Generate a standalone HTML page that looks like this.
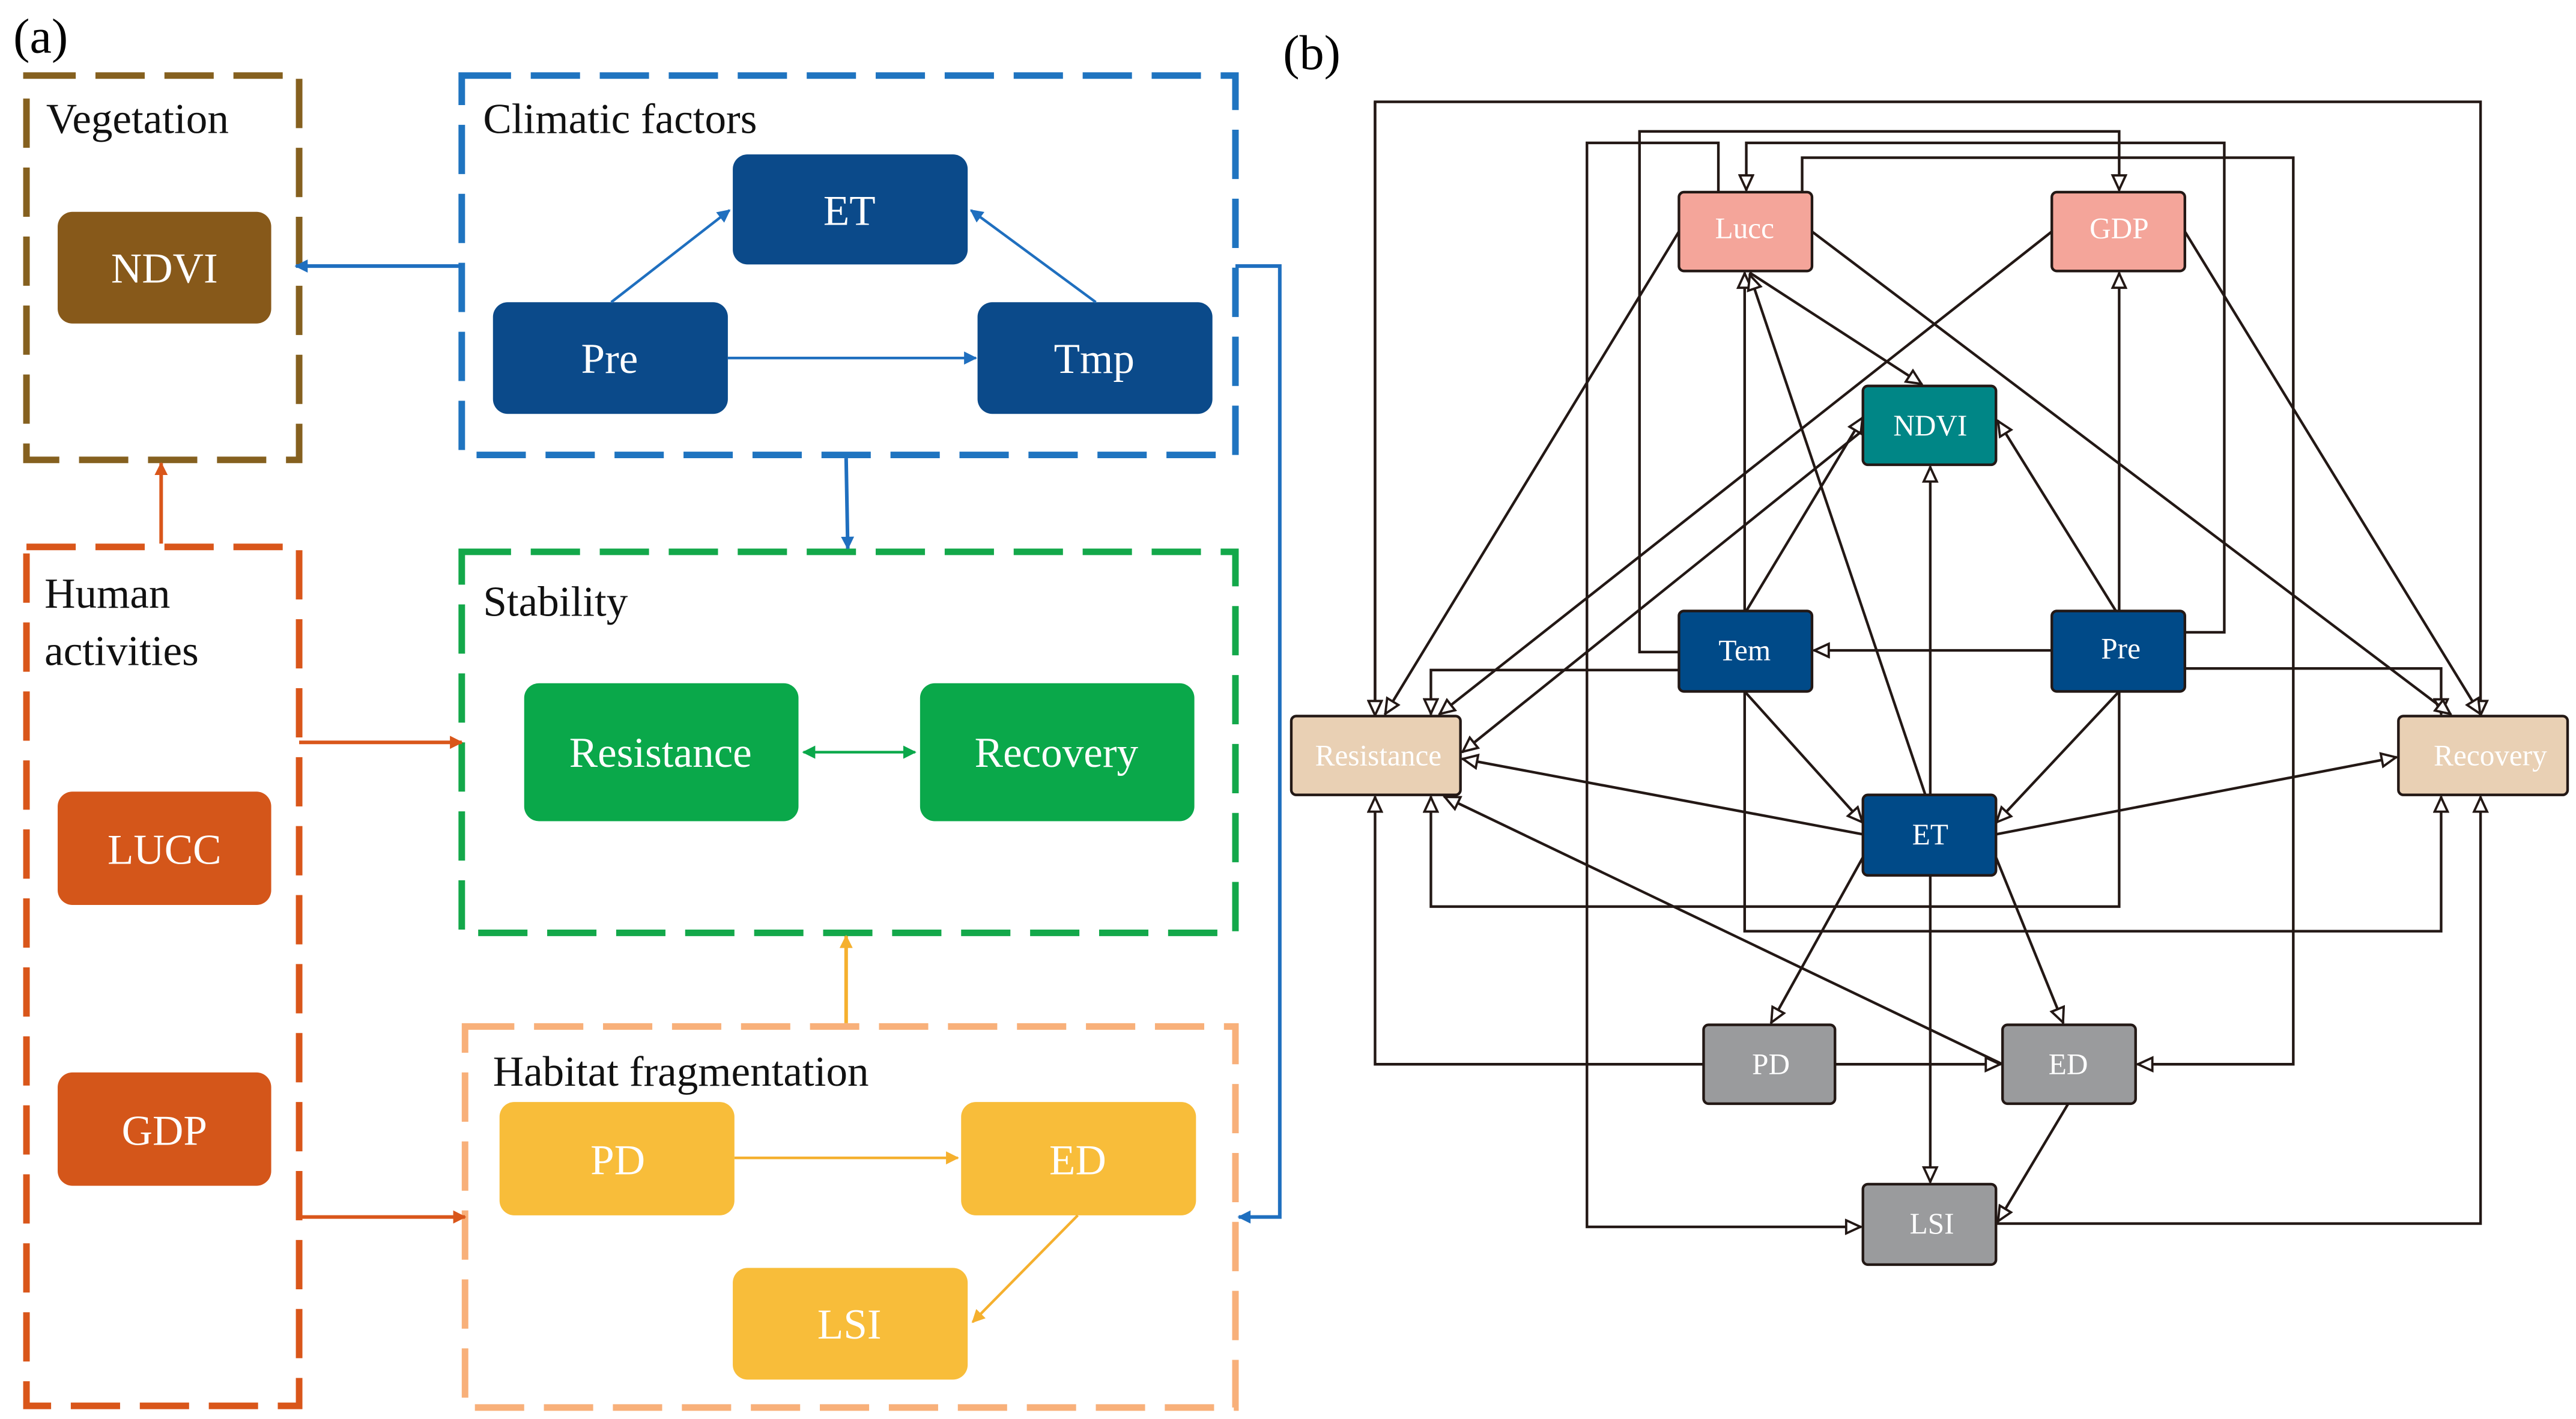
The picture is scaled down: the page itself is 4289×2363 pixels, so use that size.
<!DOCTYPE html>
<html><head><meta charset="utf-8"><style>
html,body{margin:0;padding:0;background:#fff}
svg{display:block}
svg text{font-family:"Liberation Serif","DejaVu Serif",serif}
</style></head><body>
<svg width="4289" height="2363" viewBox="0 0 1568 864" xmlns="http://www.w3.org/2000/svg" font-family="Liberation Serif, DejaVu Serif, serif">
<defs>
<marker id="ob" viewBox="0 0 10 10" refX="10" refY="5" markerWidth="13" markerHeight="10" markerUnits="userSpaceOnUse" orient="auto"><path d="M0.8,1 L9.5,5 L0.8,9 Z" fill="#fff" stroke="#231815" stroke-width="1.4"/></marker>
<marker id="mb" viewBox="0 0 10 10" refX="9" refY="5" markerWidth="9" markerHeight="8" markerUnits="userSpaceOnUse" orient="auto"><path d="M0,0 L10,5 L0,10 Z" fill="#1f6fbf"/></marker>
<marker id="mo" viewBox="0 0 10 10" refX="9" refY="5" markerWidth="9" markerHeight="8" markerUnits="userSpaceOnUse" orient="auto"><path d="M0,0 L10,5 L0,10 Z" fill="#d9561a"/></marker>
<marker id="my" viewBox="0 0 10 10" refX="9" refY="5" markerWidth="9" markerHeight="8" markerUnits="userSpaceOnUse" orient="auto"><path d="M0,0 L10,5 L0,10 Z" fill="#f5b02e"/></marker>
<marker id="mg" viewBox="0 0 10 10" refX="9" refY="5" markerWidth="9" markerHeight="8" markerUnits="userSpaceOnUse" orient="auto-start-reverse"><path d="M0,0 L10,5 L0,10 Z" fill="#0aa84a"/></marker>
</defs>

<!-- (a) -->
<text x="8" y="32" font-size="30" font-family="Liberation Serif, serif">(a)</text>
<g fill="none" stroke-width="4" stroke-dasharray="30,12">
<rect x="16" y="46" width="166" height="234" stroke="#85601f"/>
<rect x="16" y="333" width="166" height="523" stroke="#d9561a"/>
<rect x="281" y="46" width="471" height="231" stroke="#1f74c0"/>
<rect x="281" y="336" width="471" height="232" stroke="#13a84a"/>
<rect x="283" y="625" width="469" height="232" stroke="#f8b07a"/>
</g>
<g font-size="26" fill="#111" font-family="Liberation Serif, serif">
<text x="28" y="81">Vegetation</text>
<text x="294" y="81">Climatic factors</text>
<text x="27" y="370">Human</text>
<text x="27" y="405">activities</text>
<text x="294" y="375">Stability</text>
<text x="300" y="661">Habitat fragmentation</text>
</g>
<g>
<rect x="35" y="129" width="130" height="68" rx="9" fill="#87591a"/>
<rect x="35" y="482" width="130" height="69" rx="9" fill="#d4561a"/>
<rect x="35" y="653" width="130" height="69" rx="9" fill="#d4561a"/>
<rect x="446" y="94" width="143" height="67" rx="9" fill="#0b4a8a"/>
<rect x="300" y="184" width="143" height="68" rx="9" fill="#0b4a8a"/>
<rect x="595" y="184" width="143" height="68" rx="9" fill="#0b4a8a"/>
<rect x="319" y="416" width="167" height="84" rx="9" fill="#0aa84a"/>
<rect x="560" y="416" width="167" height="84" rx="9" fill="#0aa84a"/>
<rect x="304" y="671" width="143" height="69" rx="9" fill="#f8bd3a"/>
<rect x="585" y="671" width="143" height="69" rx="9" fill="#f8bd3a"/>
<rect x="446" y="772" width="143" height="68" rx="9" fill="#f8bd3a"/>
</g>
<g font-size="26" fill="#fff" text-anchor="middle" font-family="Liberation Serif, serif">
<text x="100" y="172">NDVI</text>
<text x="100" y="526">LUCC</text>
<text x="100" y="697">GDP</text>
<text x="517" y="137">ET</text>
<text x="371" y="227">Pre</text>
<text x="666" y="227">Tmp</text>
<text x="402" y="467">Resistance</text>
<text x="643" y="467">Recovery</text>
<text x="376" y="715">PD</text>
<text x="656" y="715">ED</text>
<text x="517" y="815">LSI</text>
</g>
<g fill="none" stroke-width="2.2">
<line x1="281" y1="162" x2="180" y2="162" stroke="#1f6fbf" marker-end="url(#mb)"/>
<line x1="98" y1="331" x2="98" y2="282" stroke="#d9561a" marker-end="url(#mo)"/>
<polyline points="182,452 281,452" stroke="#d9561a" marker-end="url(#mo)"/>
<polyline points="182,741 283,741" stroke="#d9561a" marker-end="url(#mo)"/>
<line x1="515" y1="279" x2="516" y2="334" stroke="#1f6fbf" marker-end="url(#mb)"/>
<line x1="515" y1="623" x2="515" y2="570" stroke="#f5b02e" marker-end="url(#my)"/>
<polyline points="752,162 779,162 779,741 754,741" stroke="#1f6fbf" marker-end="url(#mb)"/>
</g>
<g fill="none" stroke-width="1.6">
<line x1="372" y1="184" x2="444" y2="128" stroke="#1f6fbf" marker-end="url(#mb)"/>
<line x1="667" y1="184" x2="591" y2="128" stroke="#1f6fbf" marker-end="url(#mb)"/>
<line x1="443" y1="218" x2="594" y2="218" stroke="#1f6fbf" marker-end="url(#mb)"/>
<line x1="489" y1="458" x2="557" y2="458" stroke="#0aa84a" marker-start="url(#mg)" marker-end="url(#mg)"/>
<line x1="447" y1="705" x2="583" y2="705" stroke="#f5b02e" marker-end="url(#my)"/>
<line x1="656" y1="740" x2="592" y2="805" stroke="#f5b02e" marker-end="url(#my)"/>
</g>

<!-- (b) -->
<text x="781" y="42" font-size="30" font-family="Liberation Serif, serif">(b)</text>
<g fill="none" stroke="#231815" stroke-width="1.6">
<polyline points="837,436 837,62 1510,62 1510,436" marker-end="url(#ob)"/>
<line x1="837" y1="62" x2="837" y2="436" marker-end="url(#ob)"/>
<polyline points="1046,117 1046,87 966,87 966,747 1133,747" marker-end="url(#ob)"/>
<polyline points="1022,397 998,397 998,80 1290,80 1290,116" marker-end="url(#ob)"/>
<polyline points="1330,385 1354,385 1354,87 1063,87 1063,116" marker-end="url(#ob)"/>
<polyline points="1097,117 1097,96 1396,96 1396,648 1301,648" marker-end="url(#ob)"/>
<polyline points="1330,407 1486,407 1486,435" marker-end="url(#ob)"/>
<polyline points="1022,408 871,408 871,435" marker-end="url(#ob)"/>
<line x1="1249" y1="396" x2="1104" y2="396" marker-end="url(#ob)"/>
<line x1="1062" y1="372" x2="1062" y2="166" marker-end="url(#ob)"/>
<line x1="1290" y1="372" x2="1290" y2="166" marker-end="url(#ob)"/>
<line x1="1175" y1="484" x2="1175" y2="284" marker-end="url(#ob)"/>
<line x1="1065" y1="166" x2="1170" y2="234" marker-end="url(#ob)"/>
<line x1="1172" y1="484" x2="1065" y2="167" marker-end="url(#ob)"/>
<line x1="1063" y1="372" x2="1134" y2="254" marker-end="url(#ob)"/>
<line x1="1288" y1="372" x2="1216" y2="256" marker-end="url(#ob)"/>
<line x1="1022" y1="141" x2="843" y2="435" marker-end="url(#ob)"/>
<line x1="1103" y1="141" x2="1492" y2="435" marker-end="url(#ob)"/>
<line x1="1330" y1="141" x2="1510" y2="435" marker-end="url(#ob)"/>
<line x1="1249" y1="141" x2="876" y2="435" marker-end="url(#ob)"/>
<line x1="1134" y1="262" x2="890" y2="458" marker-end="url(#ob)"/>
<line x1="1134" y1="508" x2="890" y2="462" marker-end="url(#ob)"/>
<line x1="1215" y1="508" x2="1459" y2="461" marker-end="url(#ob)"/>
<line x1="1062" y1="421" x2="1134" y2="501" marker-end="url(#ob)"/>
<line x1="1290" y1="421" x2="1215" y2="501" marker-end="url(#ob)"/>
<polyline points="1290,421 1290,552 871,552 871,485" marker-end="url(#ob)"/>
<polyline points="1062,421 1062,567 1486,567 1486,485" marker-end="url(#ob)"/>
<polyline points="1037,648 837,648 837,485" marker-end="url(#ob)"/>
<line x1="1117" y1="648" x2="1218" y2="648" marker-end="url(#ob)"/>
<line x1="1219" y1="648" x2="879" y2="485" marker-end="url(#ob)"/>
<line x1="1134" y1="522" x2="1078" y2="623" marker-end="url(#ob)"/>
<line x1="1215" y1="522" x2="1256" y2="623" marker-end="url(#ob)"/>
<line x1="1175" y1="533" x2="1175" y2="720" marker-end="url(#ob)"/>
<line x1="1259" y1="672" x2="1216" y2="744" marker-end="url(#ob)"/>
<polyline points="1215,745 1510,745 1510,485" marker-end="url(#ob)"/>
</g>
<g stroke="#231815" stroke-width="1.6">
<rect x="1022" y="117" width="81" height="48" rx="3" fill="#f4a59a"/>
<rect x="1249" y="117" width="81" height="48" rx="3" fill="#f4a59a"/>
<rect x="1134" y="235" width="81" height="48" rx="3" fill="#008686"/>
<rect x="1022" y="372" width="81" height="49" rx="3" fill="#004a88"/>
<rect x="1249" y="372" width="81" height="49" rx="3" fill="#004a88"/>
<rect x="786" y="436" width="103" height="48" rx="3" fill="#e9d0b4"/>
<rect x="1460" y="436" width="103" height="48" rx="3" fill="#e9d0b4"/>
<rect x="1134" y="484" width="81" height="49" rx="3" fill="#004a88"/>
<rect x="1037" y="624" width="80" height="48" rx="3" fill="#9a9b9d"/>
<rect x="1219" y="624" width="81" height="48" rx="3" fill="#9a9b9d"/>
<rect x="1134" y="721" width="81" height="49" rx="3" fill="#9a9b9d"/>
</g>
<g font-size="18" fill="#fff" text-anchor="middle" font-family="Liberation Serif, serif">
<text x="1062" y="145">Lucc</text>
<text x="1290" y="145">GDP</text>
<text x="1175" y="265">NDVI</text>
<text x="1062" y="402">Tem</text>
<text x="1291" y="401">Pre</text>
<text x="839" y="466">Resistance</text>
<text x="1516" y="466">Recovery</text>
<text x="1175" y="514">ET</text>
<text x="1078" y="654">PD</text>
<text x="1259" y="654">ED</text>
<text x="1176" y="751">LSI</text>
</g>
</svg>
</body></html>
